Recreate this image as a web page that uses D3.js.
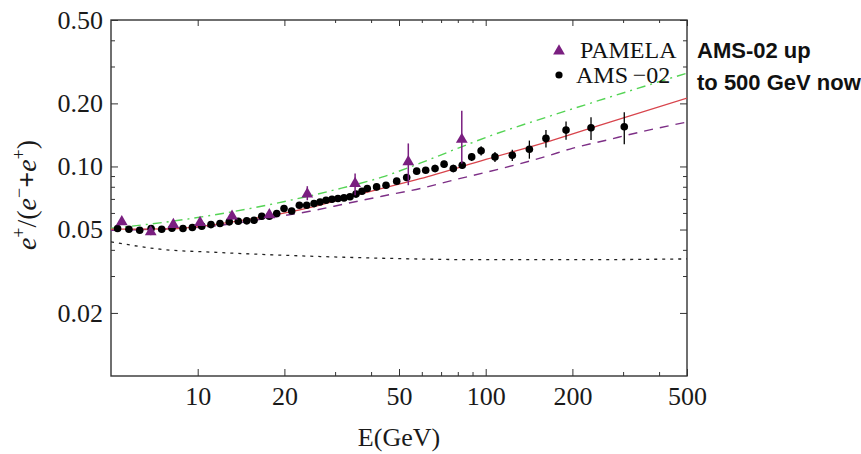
<!DOCTYPE html>
<html>
<head>
<meta charset="utf-8">
<script src="https://cdn.jsdelivr.net/npm/d3@7"></script>
<style>
body { margin: 0; background: #fff; }
</style>
</head>
<body>
<div id="chart"></div>
<script>
// AMS-02 positron fraction
var amsE = [5.27, 5.77, 6.29, 6.89, 7.50, 8.14, 8.89, 9.58, 10.33, 11.12, 11.95, 12.87, 13.83, 14.80, 15.69, 16.69, 17.73, 18.81, 19.94, 21.20,
	22.54, 23.90, 25.35, 26.59, 27.90, 29.26, 30.69, 32.21, 33.79, 35.45, 37.19, 38.8, 41.8, 45.07, 49.09, 53.17, 57.6, 61.9, 66.7, 71.7,
	77.2, 82.9, 89.4, 96.4, 107.7, 123.7, 141.8, 161.9, 190.1, 232.1, 302.8];
var amsFrac = [0.0506, 0.0502, 0.0496, 0.0506, 0.0502, 0.0507, 0.0506, 0.0511, 0.0519, 0.0528, 0.0534, 0.0544, 0.0548, 0.0550, 0.0554, 0.0579, 0.0579, 0.0596, 0.0630, 0.0613,
	0.0653, 0.0653, 0.0665, 0.0677, 0.0690, 0.0698, 0.0703, 0.0708, 0.0717, 0.0738, 0.0762, 0.0785, 0.0799, 0.0814, 0.0851, 0.0886, 0.0950, 0.0960, 0.0978, 0.1026,
	0.0978, 0.1014, 0.1111, 0.1187, 0.1111, 0.1132, 0.1209, 0.1361, 0.1491, 0.1529, 0.1546];
var amsErr = [0.001, 0.001, 0.001, 0.001, 0.001, 0.001, 0.001, 0.001, 0.001, 0.001, 0.001, 0.001, 0.001, 0.001, 0.001, 0.001, 0.001, 0.001, 0.001, 0.001,
	0.001, 0.001, 0.001, 0.001, 0.001, 0.001, 0.001, 0.001, 0.001, 0.001, 0.002, 0.002, 0.003, 0.003, 0.003, 0.003, 0.003, 0.003, 0.004, 0.004,
	0.004, 0.004, 0.005, 0.006, 0.006, 0.007, 0.012, 0.013, 0.015, 0.019, 0.027];

// PAMELA
var pamelaE = [5.45, 6.87, 8.23, 10.19, 13.16, 17.73, 24.02, 35.2, 53.86, 82.6];
var pamelaFrac = [0.0544, 0.0487, 0.0528, 0.0540, 0.0579, 0.0588, 0.0738, 0.0829, 0.1052, 0.1346];
var pamelaLo = [0.0525, 0.0470, 0.0510, 0.0522, 0.0560, 0.0568, 0.0690, 0.0729, 0.0814, 0.1033];
var pamelaHi = [0.0564, 0.0505, 0.0547, 0.0558, 0.0598, 0.0608, 0.0805, 0.0926, 0.1288, 0.1843];

// model curves
var redE = [5, 8, 14.4, 24.9, 36.0, 59.2, 100.8, 167, 263, 500];
var redFrac = [0.0502, 0.0504, 0.0554, 0.0639, 0.0734, 0.0874, 0.1083, 0.1321, 0.1610, 0.2120];
var greenE = [5, 7.7, 11.2, 18.8, 31.6, 43.6, 59.2, 77.0, 100.8, 167, 263, 500];
var greenFrac = [0.0507, 0.0542, 0.0585, 0.0668, 0.0788, 0.0889, 0.1037, 0.1196, 0.1380, 0.1739, 0.2120, 0.2790];
var purpleE = [5, 10.19, 19.3, 24.5, 33.3, 43.6, 60, 77.0, 100.8, 131.6, 162.8, 201, 263, 343.4, 500];
var purpleFrac = [0.0496, 0.0513, 0.0579, 0.0611, 0.0668, 0.0721, 0.0788, 0.0860, 0.0939, 0.1031, 0.1120, 0.1223, 0.1336, 0.1459, 0.1630];
var dotE = [5, 7.4, 11.64, 19.8, 43.0, 95.6, 212.5, 500];
var dotFrac = [0.0437, 0.0403, 0.0389, 0.0377, 0.0365, 0.0359, 0.0359, 0.0362];

var xTicks = [10, 20, 50, 100, 200, 500];
var xMinor = [30, 40, 60, 70, 80, 90, 300, 400];
var yTicks = [0.02, 0.05, 0.1, 0.2, 0.5];
var yMinor = [0.03, 0.04, 0.06, 0.07, 0.08, 0.09, 0.3, 0.4];

var $posfrac = {}; /* module namespace */

$posfrac.draw = function() {
	var pl = 111, pt = 20, pr = 687, pb = 376;
	var serif = "'Liberation Serif', 'Times New Roman', serif";

	var svg = d3.select("#chart").append("svg")
		.attr("width", 861)
		.attr("height", 454);

	var x = d3.scaleLog().domain([5, 500]).range([pl, pr]);
	var y = d3.scaleLog().domain([0.01, 0.5]).range([pb, pt]);

	svg.append("clipPath").attr("id", "plotclip")
		.append("rect")
		.attr("x", pl).attr("y", pt)
		.attr("width", pr - pl).attr("height", pb - pt);

	// axes, ticks point inwards
	function styleAxis(g) {
		g.select(".domain").remove();
		g.selectAll(".tick line").attr("stroke", "#333").attr("stroke-width", 1);
		g.selectAll(".tick text")
			.attr("fill", "#1a1a1a")
			.style("font-family", serif)
			.style("font-size", "26px");
	}

	svg.append("g").attr("transform", "translate(0," + pb + ")")
		.call(d3.axisBottom(x).tickValues(xTicks).tickSize(-7).tickPadding(11).tickFormat(d3.format("d")))
		.call(styleAxis);
	svg.append("g").attr("transform", "translate(0," + pb + ")")
		.call(d3.axisBottom(x).tickValues(xMinor).tickSize(-4).tickFormat(""))
		.call(styleAxis);
	svg.append("g").attr("transform", "translate(0," + pt + ")")
		.call(d3.axisTop(x).tickValues(xTicks).tickSize(-6).tickFormat(""))
		.call(styleAxis);
	svg.append("g").attr("transform", "translate(0," + pt + ")")
		.call(d3.axisTop(x).tickValues(xMinor).tickSize(-3).tickFormat(""))
		.call(styleAxis);

	svg.append("g").attr("transform", "translate(" + pl + ",0)")
		.call(d3.axisLeft(y).tickValues(yTicks).tickSize(-7).tickPadding(8).tickFormat(d3.format(".2f")))
		.call(styleAxis);
	svg.append("g").attr("transform", "translate(" + pl + ",0)")
		.call(d3.axisLeft(y).tickValues(yMinor).tickSize(-4).tickFormat(""))
		.call(styleAxis);
	svg.append("g").attr("transform", "translate(" + pr + ",0)")
		.call(d3.axisRight(y).tickValues(yTicks).tickSize(-7).tickFormat(""))
		.call(styleAxis);
	svg.append("g").attr("transform", "translate(" + pr + ",0)")
		.call(d3.axisRight(y).tickValues(yMinor).tickSize(-4).tickFormat(""))
		.call(styleAxis);

	// frame
	svg.append("rect")
		.attr("x", pl).attr("y", pt)
		.attr("width", pr - pl).attr("height", pb - pt)
		.attr("fill", "none")
		.attr("stroke", "#333")
		.attr("stroke-width", 1.4);

	// curves
	var line = d3.line()
		.x(function(d) { return x(d[0]); })
		.y(function(d) { return y(d[1]); })
		.curve(d3.curveMonotoneX);

	var curves = [
		{e: dotE, f: dotFrac, color: "#222", dash: "3,5", w: 1.3},
		{e: purpleE, f: purpleFrac, color: "#7d2f86", dash: "9,7", w: 1.4},
		{e: greenE, f: greenFrac, color: "#55d455", dash: "9,5,2,5", w: 1.4},
		{e: redE, f: redFrac, color: "#d8444c", dash: null, w: 1.3}
	];
	curves.forEach(function(c) {
		svg.append("path")
			.attr("clip-path", "url(#plotclip)")
			.attr("d", line(d3.zip(c.e, c.f)))
			.attr("fill", "none")
			.attr("stroke", c.color)
			.attr("stroke-width", c.w)
			.attr("stroke-dasharray", c.dash);
	});

	// AMS-02 points
	var ams = d3.range(amsE.length).map(function(i) {
		return {e: amsE[i], f: amsFrac[i], err: amsErr[i]};
	});
	svg.append("g").selectAll("line")
		.data(ams)
		.enter()
		.append("line")
		.attr("x1", function(d) { return x(d.e); })
		.attr("x2", function(d) { return x(d.e); })
		.attr("y1", function(d) { return y(d.f - d.err); })
		.attr("y2", function(d) { return y(d.f + d.err); })
		.attr("stroke", "#000")
		.attr("stroke-width", 1.3);
	svg.append("g").selectAll("circle")
		.data(ams)
		.enter()
		.append("circle")
		.attr("cx", function(d) { return x(d.e); })
		.attr("cy", function(d) { return y(d.f); })
		.attr("r", 3.8)
		.attr("fill", "#000");

	// PAMELA points
	var purple = "#7a1f80";
	var pam = d3.range(pamelaE.length).map(function(i) {
		return {e: pamelaE[i], f: pamelaFrac[i], lo: pamelaLo[i], hi: pamelaHi[i]};
	});
	svg.append("g").selectAll("line")
		.data(pam)
		.enter()
		.append("line")
		.attr("x1", function(d) { return x(d.e); })
		.attr("x2", function(d) { return x(d.e); })
		.attr("y1", function(d) { return y(d.lo); })
		.attr("y2", function(d) { return y(d.hi); })
		.attr("stroke", purple)
		.attr("stroke-width", 1.5);
	var tri = d3.symbol().type(d3.symbolTriangle).size(60);
	svg.append("g").selectAll("path")
		.data(pam)
		.enter()
		.append("path")
		.attr("d", tri)
		.attr("transform", function(d) { return "translate(" + x(d.e) + "," + y(d.f) + ")"; })
		.attr("fill", purple);

	// legend
	svg.append("path").attr("d", tri).attr("transform", "translate(559,51)").attr("fill", purple);
	svg.append("circle").attr("cx", 559).attr("cy", 75).attr("r", 3.6).attr("fill", "#000");
	svg.append("text").attr("x", 580).attr("y", 58)
		.style("font-family", serif).style("font-size", "24px").attr("fill", "#111")
		.text("PAMELA");
	svg.append("text").attr("x", 576).attr("y", 83)
		.style("font-family", serif).style("font-size", "24px").attr("fill", "#111")
		.text("AMS\u2009\u221202");

	// axis titles
	svg.append("text")
		.attr("x", 399).attr("y", 446)
		.attr("text-anchor", "middle")
		.style("font-family", serif).style("font-size", "26px").attr("fill", "#1a1a1a")
		.text("E(GeV)");

	var ylab = svg.append("text")
		.attr("transform", "translate(36,195) rotate(-90)")
		.attr("text-anchor", "middle")
		.style("font-family", serif).style("font-size", "28px").attr("fill", "#1a1a1a");
	ylab.append("tspan").style("font-style", "italic").text("e");
	ylab.append("tspan").attr("dy", -11).style("font-size", "18px").text("+");
	ylab.append("tspan").attr("dy", 11).text("/(");
	ylab.append("tspan").style("font-style", "italic").text("e");
	ylab.append("tspan").attr("dy", -11).style("font-size", "18px").text("\u2212");
	ylab.append("tspan").attr("dy", 11).style("font-weight", "bold").text("+");
	ylab.append("tspan").style("font-style", "italic").text("e");
	ylab.append("tspan").attr("dy", -11).style("font-size", "18px").text("+");
	ylab.append("tspan").attr("dy", 11).text(")");

	// annotation
	var note = svg.append("text")
		.style("font-family", "'Liberation Sans', Arial, sans-serif")
		.style("font-size", "22px")
		.style("font-weight", "bold")
		.attr("fill", "#111");
	note.append("tspan").attr("x", 697).attr("y", 58).text("AMS-02 up");
	note.append("tspan").attr("x", 697).attr("y", 90).text("to 500 GeV now");
};

$posfrac.draw();
</script>
</body>
</html>
